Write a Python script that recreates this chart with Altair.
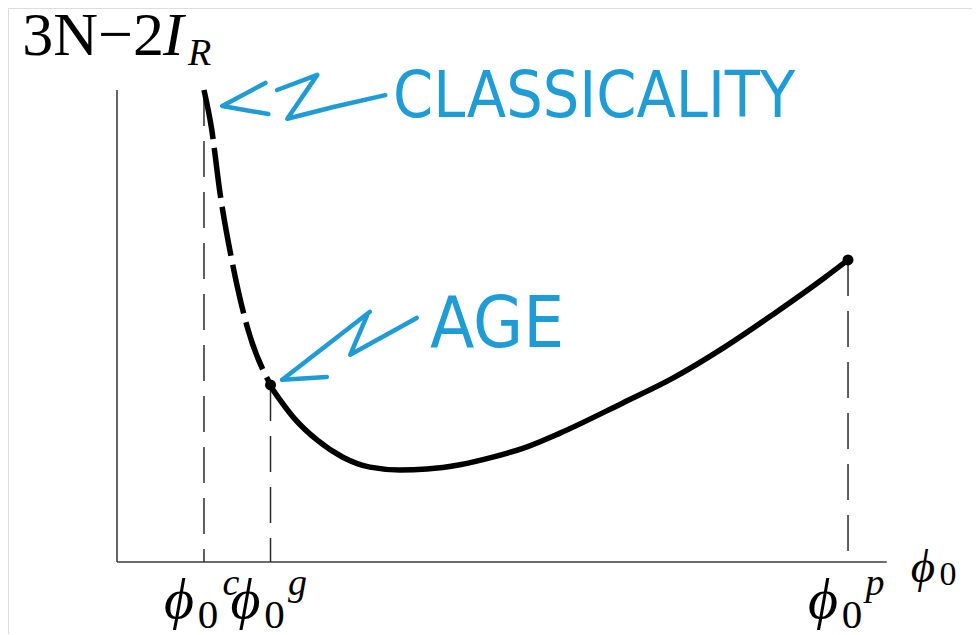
import altair as alt
import pandas as pd

# ---------------- data (arbitrary schematic units) ----------------
# phi_0 axis: origin 0, phi_0^p = 10 ; vertical axis: 3N-2I_R, axis top = 10
tick_names = ["c", "g", "p"]
tick_phi = [1.19, 2.10, 10.0]
tick_top = [10.0, 3.75, 6.40]

dashed_phi = [1.19, 1.29, 1.41, 1.57, 1.78, 2.10]
dashed_val = [10.0, 9.22, 7.81, 6.40, 4.99, 3.75]

solid_phi = [2.10, 2.41, 2.74, 3.09, 3.46, 3.87, 4.24, 4.69, 5.14, 5.61, 6.06,
             6.92, 7.61, 8.29, 8.97, 9.66, 10.0]
solid_val = [3.72, 3.07, 2.58, 2.22, 2.01, 1.95, 1.97, 2.06, 2.22, 2.44, 2.73,
             3.37, 3.90, 4.53, 5.24, 6.00, 6.40]

dot_phi = [2.10, 10.0]
dot_val = [3.75, 6.40]

axis_x_end = 10.53
axis_y_end = 10.0

# hand-drawn arrow strokes (schematic units)
arrow_id = ["c1", "c1", "c1", "c2", "c2", "c2", "c2", "c2",
            "a1", "a1", "a2", "a2", "a3", "a3", "a3"]
arrow_phi = [2.03, 1.44, 2.07, 2.19, 2.74, 2.33, 2.96, 3.67,
             2.26, 3.46, 2.26, 2.87, 3.42, 3.19, 4.10]
arrow_val = [10.15, 9.66, 9.49, 10.0, 10.32, 9.39, 9.64, 9.89,
             3.86, 5.30, 3.86, 3.92, 5.22, 4.39, 5.17]

notes = ["CLASSICALITY", "AGE"]

# ---------------- scales ----------------
H = 626
ytop = 11.737
ybot = ytop - H / 47.2
xs = alt.Scale(domain=[-1.491, 11.696], nice=False, zero=False)
ys = alt.Scale(domain=[ybot, ytop], nice=False, zero=False)
SERIF = "Liberation Serif, DejaVu Serif, serif"
HAND = "Liberation Sans Narrow, DejaVu Sans Condensed, Liberation Sans, sans-serif"
BLUE = "#1f9bd5"


def X(f):
    return alt.X(f, type="quantitative", scale=xs, axis=None)


def Y(f):
    return alt.Y(f, type="quantitative", scale=ys, axis=None)


axes_df = pd.DataFrame({"x": [0, 0], "y": [0, 0], "x2": [0, axis_x_end], "y2": [axis_y_end, 0]})
axes = alt.Chart(axes_df).mark_rule(color="#3c3c3c", strokeWidth=1.6).encode(
    x=X("x"), y=Y("y"), x2="x2", y2="y2")

ticks_df = pd.DataFrame({"name": tick_names, "phi": tick_phi, "top": tick_top,
                         "base": [0, 0, 0], "sym": ["ϕ"] * 3, "sub": ["0"] * 3})
guides = alt.Chart(ticks_df).mark_rule(color="#2a2a2a", strokeWidth=1.5, strokeDash=[36, 15]).encode(
    x=X("phi"), y=Y("top"), y2="base")

dashed = alt.Chart(pd.DataFrame({"phi": dashed_phi, "v": dashed_val})).mark_line(
    color="black", strokeWidth=5.5, strokeDash=[50, 9], interpolate="monotone", strokeCap="butt"
).encode(x=X("phi"), y=Y("v"))

solid = alt.Chart(pd.DataFrame({"phi": solid_phi, "v": solid_val})).mark_line(
    color="black", strokeWidth=5.5, interpolate="monotone", strokeCap="round"
).encode(x=X("phi"), y=Y("v"))

dots = alt.Chart(pd.DataFrame({"phi": dot_phi, "v": dot_val})).mark_circle(
    color="black", size=120, opacity=1).encode(x=X("phi"), y=Y("v"))

arr_df = pd.DataFrame({"id": arrow_id, "phi": arrow_phi, "v": arrow_val,
                       "seq": list(range(len(arrow_id)))})
arrows = alt.Chart(arr_df).mark_line(
    color=BLUE, strokeWidth=4.5, strokeCap="round", strokeJoin="round"
).encode(x=X("phi"), y=Y("v"), detail="id:N", order="seq:Q")

# tick labels  phi_0^x
tick_sym = alt.Chart(ticks_df).mark_text(
    font=SERIF, fontStyle="italic", fontSize=58, align="center", baseline="alphabetic", dx=-25, color="black"
).encode(x=X("phi"), y=alt.value(610), text="sym:N")
tick_sub = alt.Chart(ticks_df).mark_text(
    font=SERIF, fontSize=41, align="center", baseline="alphabetic", dx=4, color="black"
).encode(x=X("phi"), y=alt.value(620), text="sub:N")
tick_sup = alt.Chart(ticks_df).mark_text(
    font=SERIF, fontStyle="italic", fontSize=38, align="center", baseline="alphabetic", dx=27, color="black"
).encode(x=X("phi"), y=alt.value(587), text="name:N")

lab_df = pd.DataFrame({"a": ["3N−2"], "b": ["I"], "c": ["R"], "d": ["ϕ"], "e": ["0"]})
ylab1 = alt.Chart(lab_df).mark_text(font=SERIF, fontSize=62, align="right", baseline="alphabetic",
                                    color="black").encode(x=alt.value(156), y=alt.value(47), text="a:N")
ylab2 = alt.Chart(lab_df).mark_text(font=SERIF, fontSize=62, fontStyle="italic", align="left",
                                    baseline="alphabetic", color="black").encode(
    x=alt.value(155), y=alt.value(47), text="b:N")
ylab3 = alt.Chart(lab_df).mark_text(font=SERIF, fontSize=38, fontStyle="italic", align="left",
                                    baseline="alphabetic", color="black").encode(
    x=alt.value(180), y=alt.value(57), text="c:N")
xlab1 = alt.Chart(lab_df).mark_text(font=SERIF, fontSize=47, fontStyle="italic", align="center",
                                    baseline="alphabetic", color="black").encode(
    x=alt.value(915), y=alt.value(574), text="d:N")
xlab2 = alt.Chart(lab_df).mark_text(font=SERIF, fontSize=34, align="center",
                                    baseline="alphabetic", color="black").encode(
    x=alt.value(940), y=alt.value(577), text="e:N")

notes_df = pd.DataFrame({"t": notes})
note1 = alt.Chart(notes_df.iloc[[0]]).mark_text(font=HAND, fontSize=64, align="left", baseline="alphabetic",
                                                color=BLUE).encode(x=alt.value(385), y=alt.value(109), text="t:N")
note2 = alt.Chart(notes_df.iloc[[1]]).mark_text(font=HAND, fontSize=72, align="left", baseline="alphabetic",
                                                color=BLUE).encode(x=alt.value(422), y=alt.value(339), text="t:N")

chart = alt.layer(
    axes, guides, dashed, solid, dots, arrows,
    tick_sym, tick_sub, tick_sup, ylab1, ylab2, ylab3, xlab1, xlab2, note1, note2
).properties(
    width=964, height=H, padding=0, autosize=alt.AutoSizeParams(type="none")
).configure_view(stroke=None).configure(background="white")

chart.save("out.html", embed_options={"renderer": "svg", "actions": False})
